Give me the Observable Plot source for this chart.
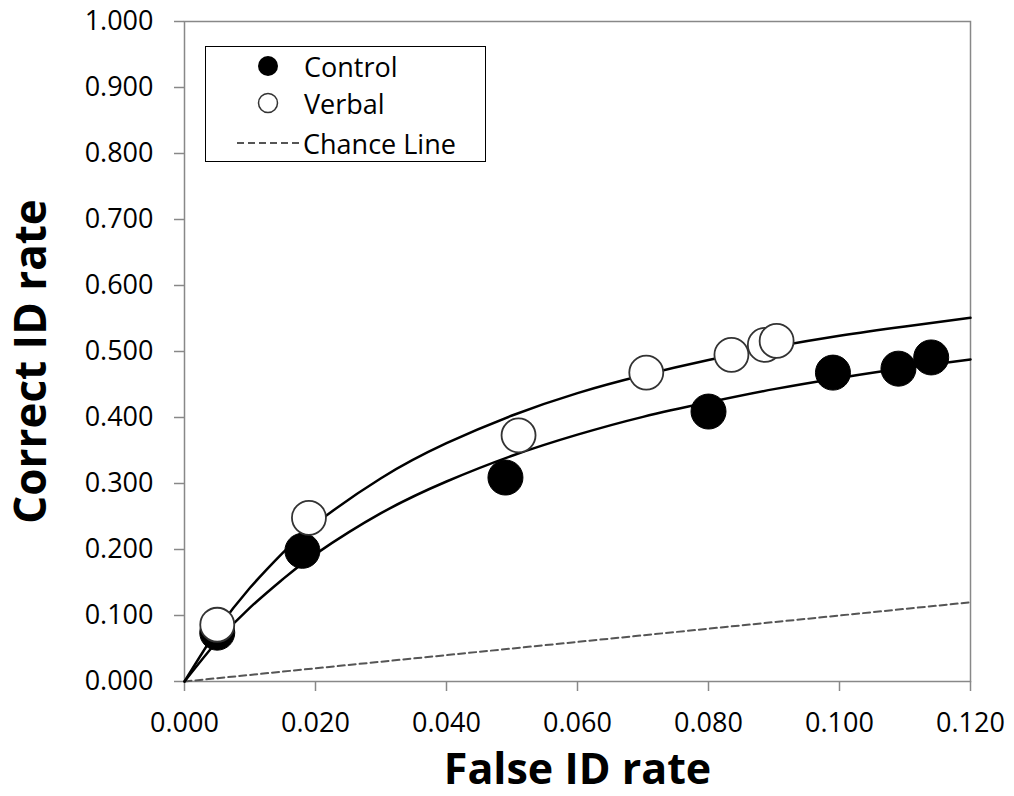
<!DOCTYPE html>
<html>
<head>
<meta charset="utf-8">
<script src="https://cdn.jsdelivr.net/npm/d3@7"></script>
<script src="https://cdn.jsdelivr.net/npm/@observablehq/plot@0.6"></script>
<style>
  html, body { margin: 0; padding: 0; background: #fff; }
  #wrap { position: relative; width: 1014px; height: 796px; font-family: "Open Sans", sans-serif; }
  #legend { position: absolute; left: 205px; top: 46px; width: 279px; height: 114px;
            border: 1.5px solid #000; background: #fff; }
  .item { position: absolute; left: 0; height: 30px; display: flex; align-items: center;
          font-size: 27px; color: #000; white-space: nowrap; }
  .item svg { display: block; }
</style>
</head>
<body>
<div id="wrap"></div>
<script>
// ---- data ----
const xTicks = [0, 0.02, 0.04, 0.06, 0.08, 0.10, 0.12];
const yTicks = [0, 0.1, 0.2, 0.3, 0.4, 0.5, 0.6, 0.7, 0.8, 0.9, 1.0];

const controlFalse   = [0.005, 0.018, 0.049, 0.080, 0.099, 0.109, 0.114];
const controlCorrect = [0.074, 0.198, 0.309, 0.409, 0.468, 0.474, 0.491];

const verbalFalse   = [0.005, 0.019, 0.051, 0.0705, 0.0835, 0.0886, 0.0904];
const verbalCorrect = [0.086, 0.248, 0.373, 0.468, 0.495, 0.510, 0.516];

// fitted curves
const fitX       = [0, 0.005, 0.01, 0.015, 0.02, 0.03, 0.04, 0.05, 0.06, 0.07, 0.08, 0.09, 0.10, 0.11, 0.12];
const verbalFit  = [0, 0.078, 0.142, 0.195, 0.239, 0.308, 0.361, 0.403, 0.437, 0.464, 0.487, 0.507, 0.524, 0.538, 0.551];
const controlFit = [0, 0.061, 0.112, 0.155, 0.193, 0.255, 0.303, 0.342, 0.374, 0.401, 0.423, 0.443, 0.460, 0.475, 0.488];

const chanceX = [0, 0.12];
const chanceY = [0, 0.12];

const legendLabels = ["Control", "Verbal", "Chance Line"];

// ---- build tables ----
const control = controlFalse.map((x, i) => ({x, y: controlCorrect[i]}));
const verbal  = verbalFalse.map((x, i) => ({x, y: verbalCorrect[i]}));
const vFit = fitX.map((x, i) => ({x, y: verbalFit[i]}));
const cFit = fitX.map((x, i) => ({x, y: controlFit[i]}));
const chance = chanceX.map((x, i) => ({x, y: chanceY[i]}));

const fmt = d3.format(".3f");

const chart = Plot.plot({
  width: 1014,
  height: 796,
  marginLeft: 184,
  marginRight: 44,
  marginTop: 21,
  marginBottom: 115,
  style: { fontFamily: "Open Sans, sans-serif", background: "#fff" },
  x: { domain: [0, 0.12] },
  y: { domain: [0, 1] },
  marks: [
    Plot.axisX({ ticks: xTicks, tickFormat: fmt, tickSize: 10, tickPadding: 21,
                 fontSize: 27, stroke: "#888", strokeWidth: 1.5, fill: "#000", label: null }),
    Plot.axisY({ ticks: yTicks, tickFormat: fmt, tickSize: 10, tickPadding: 21,
                 fontSize: 27, stroke: "#888", strokeWidth: 1.5, fill: "#000", label: null }),
    Plot.frame({ stroke: "#888", strokeWidth: 1.5 }),
    Plot.line(chance, { x: "x", y: "y", stroke: "#555", strokeWidth: 2, strokeDasharray: "7,4" }),
    Plot.line(cFit, { x: "x", y: "y", stroke: "#000", strokeWidth: 2.5, curve: "natural" }),
    Plot.line(vFit, { x: "x", y: "y", stroke: "#000", strokeWidth: 2.5, curve: "natural" }),
    Plot.dot(control, { x: "x", y: "y", r: 17.5, fill: "#000", stroke: "#000", strokeWidth: 1 }),
    Plot.dot(verbal, { x: "x", y: "y", r: 17, fill: "#fff", stroke: "#333", strokeWidth: 1.8 }),
    Plot.text(["False ID rate"], { frameAnchor: "bottom", dy: 89, fontSize: 43, fontWeight: "bold",
                                   fill: "#000", lineAnchor: "middle", textAnchor: "middle" }),
    Plot.text(["Correct ID rate"], { frameAnchor: "left", dx: -153, dy: 10, rotate: -90, fontSize: 44,
                                     fontWeight: "bold", fill: "#000", lineAnchor: "middle", textAnchor: "middle" })
  ]
});

const wrap = document.getElementById("wrap");
wrap.appendChild(chart);

// ---- legend (HTML overlay inside plot area) ----
const legend = document.createElement("div");
legend.id = "legend";
const symbols = [
  `<svg width="24" height="24"><circle cx="12" cy="12" r="10" fill="#000"/></svg>`,
  `<svg width="24" height="24"><circle cx="12" cy="12" r="9.5" fill="#fff" stroke="#333" stroke-width="1.5"/></svg>`,
  `<svg width="62" height="10"><line x1="0" y1="5" x2="62" y2="5" stroke="#555" stroke-width="2" stroke-dasharray="7,4"/></svg>`
];
const tops = [4, 41, 81];
const symLeft = [50, 50, 31];
const gap = [24, 24, 4];
legendLabels.forEach((lab, i) => {
  const it = document.createElement("div");
  it.className = "item";
  it.style.top = tops[i] + "px";
  it.style.left = symLeft[i] + "px";
  it.innerHTML = symbols[i] + `<span style="margin-left:${gap[i]}px">${lab}</span>`;
  legend.appendChild(it);
});
wrap.appendChild(legend);
</script>
</body>
</html>
